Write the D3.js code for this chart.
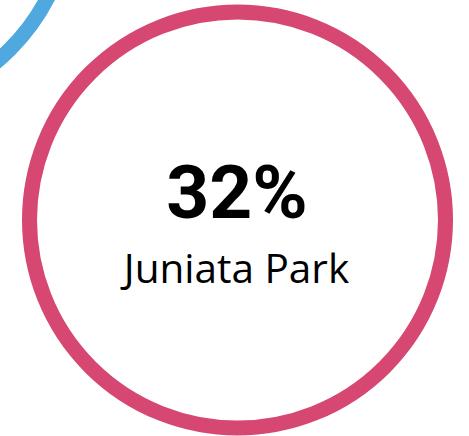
<!DOCTYPE html>
<html><head><meta charset="utf-8">
<script src="https://cdn.jsdelivr.net/npm/d3@7"></script>
<style>html,body{margin:0;padding:0;background:#fff;overflow:hidden}</style>
</head><body>
<svg id="chart" width="469" height="436"></svg>
<script>
const neighborhoods = ["Juniata Park", ""];
const percents = [32, null];
const ringColors = ["#D64772", "#4FA8DE"];

const svg = d3.select("#chart");
const R = 208, strokeW = 15;
// centers in pixel layout (main bubble, neighbouring bubble partly off view)
const centers = [[237.5, 220], [-137, -98]];

const nodes = neighborhoods.map((n, i) => ({name: n, value: percents[i], color: ringColors[i], x: centers[i][0], y: centers[i][1]}));

svg.selectAll("circle.ring").data(nodes).join("circle")
  .attr("class", "ring")
  .attr("cx", d => d.x).attr("cy", d => d.y).attr("r", R)
  .attr("fill", "none").attr("stroke", d => d.color).attr("stroke-width", strokeW);

const fmt = d => d3.format(".0%")(d / 100);
const main = nodes.filter(d => d.value != null);
svg.selectAll("text.val").data(main).join("text")
  .attr("class", "val")
  .attr("x", d => d.x - 0.5).attr("y", 218)
  .attr("text-anchor", "middle")
  .attr("font-family", "Roboto, Arial, sans-serif").attr("font-weight", 700)
  .attr("font-size", 75).attr("fill", "#000")
  .text(d => fmt(d.value));
svg.selectAll("text.lbl").data(main).join("text")
  .attr("class", "lbl")
  .attr("x", d => d.x - 1).attr("y", 283)
  .attr("text-anchor", "middle")
  .attr("font-family", "'Open Sans', sans-serif")
  .attr("font-size", 40.5).attr("fill", "#000")
  .text(d => d.name);
</script>
</body></html>
